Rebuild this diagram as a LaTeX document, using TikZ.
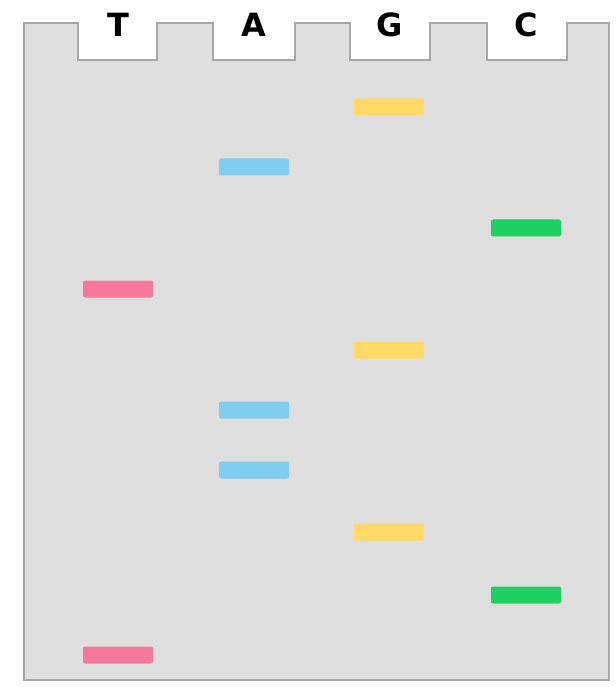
\documentclass[tikz,border=0pt]{standalone}
\usepackage{fontspec}
\setmainfont{DejaVu Sans}
\usetikzlibrary{positioning}

\definecolor{gelgray}{HTML}{DEDEDE}
\definecolor{gelline}{HTML}{A6A6A6}
\definecolor{bandT}{HTML}{F4789A}
\definecolor{bandA}{HTML}{7FCDF0}
\definecolor{bandG}{HTML}{FFD966}
\definecolor{bandC}{HTML}{1ECF62}

\begin{document}
\begin{tikzpicture}[
      x=0.5pt, y=-0.5pt,
      band/.style={rectangle, rounded corners=1pt, minimum width=35pt, minimum height=8.5pt, inner sep=0pt},
      lane/.style={font=\fontsize{16}{16}\selectfont\bfseries, inner sep=0pt}
    ]
    \useasboundingbox (0,0) rectangle (615,689);

    % gel with the four wells
    \draw[gelline, fill=gelgray, line width=1.2pt]
      (24,23) -- (78,23) -- (78,60) -- (157,60) -- (157,23)
      -- (213,23) -- (213,60) -- (295,60) -- (295,23)
      -- (350,23) -- (350,60) -- (430,60) -- (430,23)
      -- (487,23) -- (487,60) -- (567,60) -- (567,23)
      -- (609,23) -- (609,680) -- (24,680) -- cycle;

    % lane labels
    \node[lane] (labT) at (118,25) {T};
    \node[lane] (labA) at (254,25) {A};
    \node[lane] (labG) at (390,25) {G};
    \node[lane] (labC) at (526,25) {C};

    % bands
    \node[band, fill=bandG] (g1) at (389,107) {};
    \node[band, fill=bandA] (a1) at (254,167) {};
    \node[band, fill=bandC] (c1) at (526,228) {};
    \node[band, fill=bandT] (t1) at (118,289) {};
    \node[band, fill=bandG] (g2) at (389,350) {};
    \node[band, fill=bandA] (a2) at (254,410) {};
    \node[band, fill=bandA] (a3) at (254,470) {};
    \node[band, fill=bandG] (g3) at (389,532) {};
    \node[band, fill=bandC] (c2) at (526,595) {};
    \node[band, fill=bandT] (t2) at (118,655) {};
  \end{tikzpicture}
\end{document}
